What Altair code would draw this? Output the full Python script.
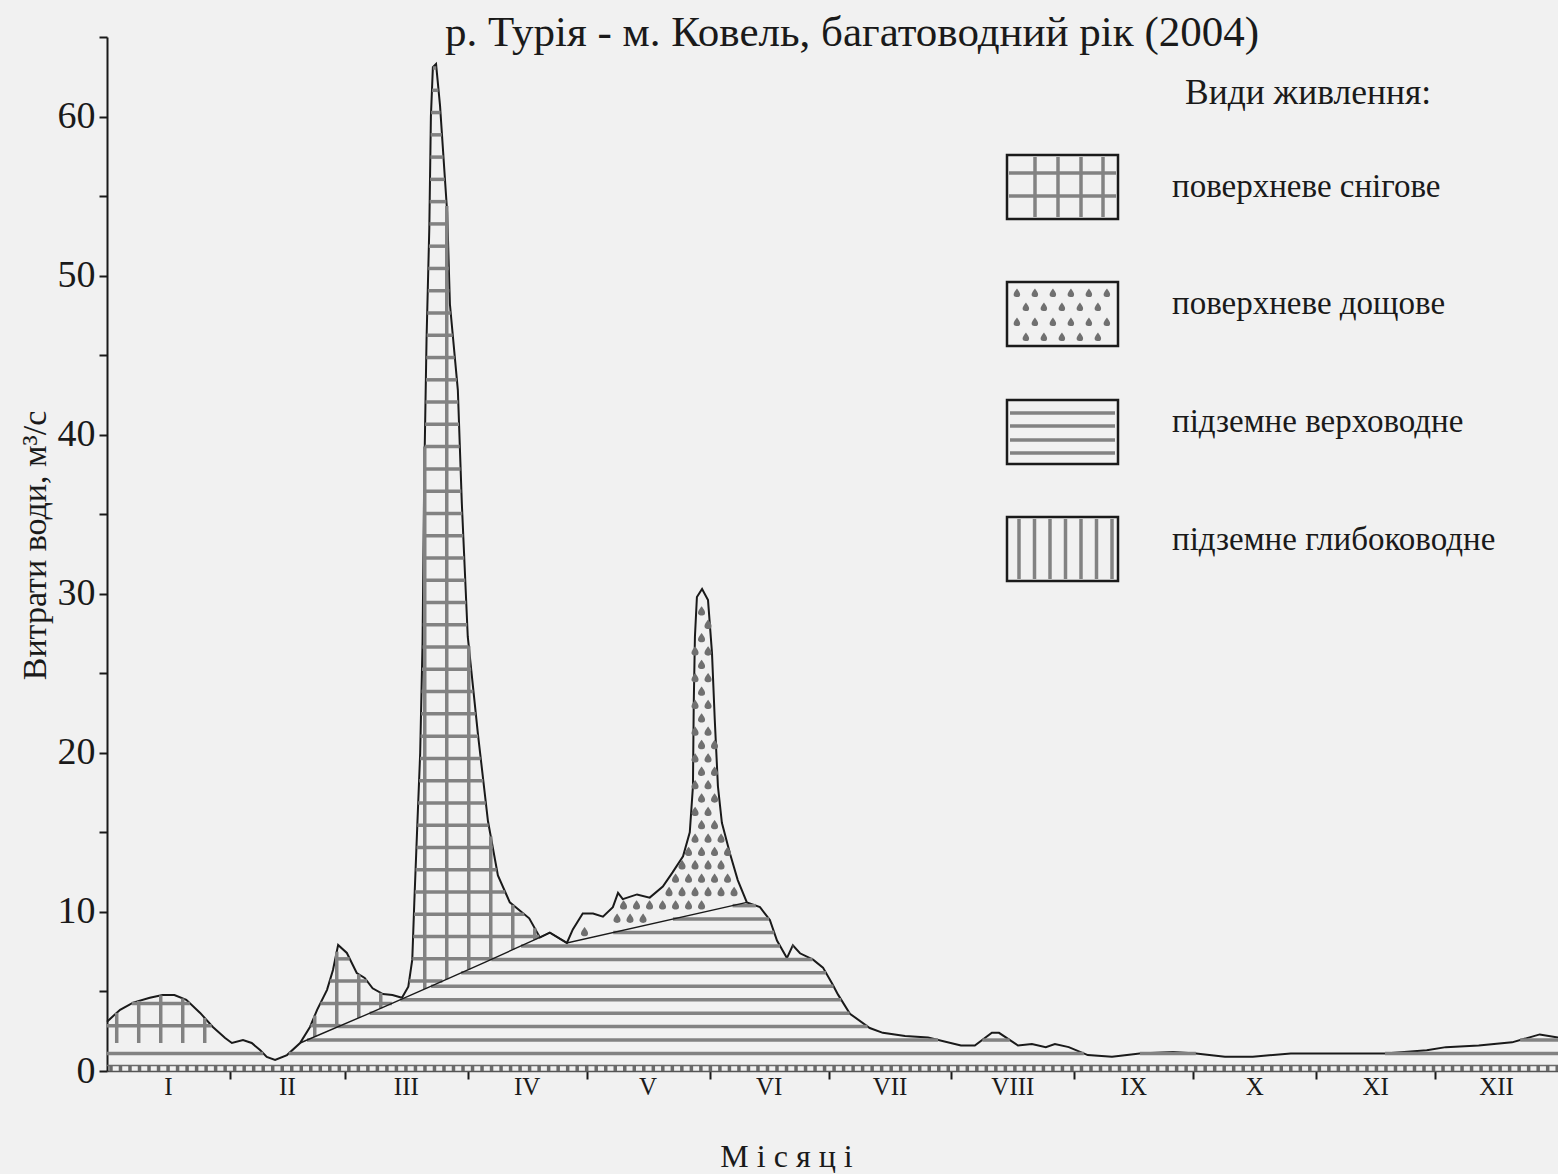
import numpy as np
import pandas as pd
import altair as alt

# ---------------------------------------------------------------- data
# Daily discharge hydrograph, day of year (2004) -> m3/s
DAYS = [0, 3.3, 6.6, 10.8, 14.0, 17.0, 20.0, 23.5, 26.7, 29.8, 31.5, 34.3, 36.5,
        38.6, 40.3, 42.4, 45.4, 48.7, 51.2, 53.0, 55.5, 57.0, 58.3, 60.5, 63.0,
        65.0, 67.0, 69.6, 72.0, 74.4, 76.0, 77.0, 77.5, 78.2, 79.0, 79.6, 80.0,
        80.6, 81.3, 81.7, 82.2, 83.0, 84.0, 85.8, 86.5, 88.5, 89.5, 91.0, 93.6,
        96.1, 98.6, 101.6, 106.5, 109.2, 111.7, 116.0, 117.5, 120.0, 122.6,
        125.1, 127.6, 128.9, 130.1, 133.7, 136.9, 140.2, 142.7, 145.3, 147.0,
        147.8, 148.0, 148.3, 148.8, 150.1, 151.6, 152.6, 153.3, 154.1, 155.1,
        157.1, 159.1, 161.4, 164.7, 167.2, 169.0, 171.5, 173.0, 174.8, 178.1,
        180.6, 182.9, 184.4, 187.4, 192.4, 195.7, 201.3, 207.1, 215.4, 218.9,
        223.2, 225.0, 229.8, 233.3, 236.8, 239.1, 242.6, 247.4, 253.5, 260.5,
        268.9, 274.7, 282.0, 289.0, 298.6, 310.5, 322.3, 332.9, 337.7, 346.0,
        354.4, 361.4, 366.0]
FLOW = [3.1, 3.85, 4.3, 4.6, 4.78, 4.78, 4.47, 3.65, 2.77, 2.07, 1.76, 1.95, 1.76,
        1.32, 0.88, 0.69, 1.0, 1.76, 2.77, 3.84, 5.1, 6.35, 7.92, 7.42, 6.16,
        5.85, 5.2, 4.84, 4.78, 4.6, 5.3, 7.0, 10.5, 15.0, 20.0, 27.0, 37.0,
        46.0, 53.0, 60.0, 63.1, 63.3, 60.7, 54.0, 48.2, 42.8, 35.7, 27.3, 21.1,
        15.7, 12.3, 10.6, 9.6, 8.4, 8.7, 8.05, 8.9, 9.9, 9.9,
        9.7, 10.3, 11.2, 10.8, 11.1, 10.9, 11.6, 12.5, 13.5, 15.0,
        17.9, 23.1, 27.3, 29.8, 30.3, 29.6, 26.3, 22.1, 17.9, 15.6,
        13.7, 12.0, 10.6, 10.3, 9.5, 8.2, 7.1, 7.9, 7.4, 7.0,
        6.5, 5.5, 4.8, 3.6, 2.7, 2.4, 2.2, 2.1, 1.6, 1.6,
        2.4, 2.4, 1.6, 1.7, 1.5, 1.7, 1.5, 1.0, 0.9, 1.1,
        1.2, 1.1, 0.9, 0.9, 1.1, 1.1, 1.1, 1.3, 1.5, 1.6,
        1.8, 2.3, 2.1]

# Upper boundary of the shallow groundwater component (after the last
# point it coincides with the hydrograph)
SEP_DAYS = [0, 31.5, 36.5, 38.6, 40.3, 42.4, 45.4, 48.7, 65.0, 81.5, 95.0,
            109.2, 111.7, 116.0, 161.4]
SEP_FLOW = [1.76, 1.76, 1.76, 1.32, 0.88, 0.69, 1.0, 1.76, 3.5, 5.3, 6.8,
            8.4, 8.7, 8.05, 10.6]

DEEP_FLOW = 0.35                 # deep groundwater, m3/s
SNOW_END = 110.0                 # end of snowmelt runoff, day
RAIN_START, RAIN_END = 116.0, 161.4

MONTHS = ["I", "II", "III", "IV", "V", "VI", "VII", "VIII", "IX", "X", "XI", "XII"]
MONTH_DAYS = [31, 29, 31, 30, 31, 30, 31, 31, 30, 31, 30, 31]

TITLE = "р. Турія - м. Ковель, багатоводний рік (2004)"
LEGEND_HEAD = "Види живлення:"
LEGEND_ITEMS = ["поверхневе снігове", "поверхневе дощове",
                "підземне верховодне", "підземне глибоководне"]

# ---------------------------------------------------------------- layout
W, H = 1451, 1034
X_MAX, Y_MAX = 366, 65
FONT = "Liberation Serif"
HATCH = "#828282"
DOT = "#707070"
INK = "#1a1a1a"
BG = "#f1f1f1"

xs = alt.Scale(domain=[0, X_MAX], nice=False, zero=False)
ys = alt.Scale(domain=[0, Y_MAX], nice=False, zero=True)


def px_x(p):
    """Plot-area pixel offset -> day units (for the legend and title)."""
    return p / W * X_MAX


def px_y(p):
    """Plot-area pixel offset from the top -> discharge units."""
    return Y_MAX * (1 - p / H)


def X(field="x"):
    return alt.X(f"{field}:Q", scale=xs)


def Y(field="y"):
    return alt.Y(f"{field}:Q", scale=ys)


# ---------------------------------------------------------------- hatching
fine = np.round(np.arange(0, 366.0001, 0.05), 3)
tot_f = np.interp(fine, DAYS, FLOW)
sep_days = SEP_DAYS + [d for d in DAYS if d > SEP_DAYS[-1]]
sep_flow = SEP_FLOW + [q for d, q in zip(DAYS, FLOW) if d > SEP_DAYS[-1]]
sep_f = np.minimum(np.interp(fine, sep_days, sep_flow), tot_f)


def runs(mask):
    m = np.diff(np.concatenate([[0], mask.astype(int), [0]]))
    return zip(np.where(m == 1)[0], np.where(m == -1)[0] - 1)


def horizontal(levels, lower, upper, region):
    rows = []
    for k in levels:
        for s, e in runs(region & (lower < k) & (upper > k)):
            if e > s:
                rows.append({"x": fine[s], "x2": fine[e], "y": k})
    return rows


snow_region = fine < SNOW_END
ground_h = horizontal(np.arange(1.1, 11.0, 0.845), np.full_like(fine, DEEP_FLOW),
                      sep_f, np.ones_like(fine, bool))
snow_h = horizontal(np.arange(2.85, 64.0, 1.4), sep_f, tot_f, snow_region)

snow_v = []
for d in np.arange(2.45, SNOW_END, 5.55):
    lo, hi = np.interp(d, sep_days, sep_flow), np.interp(d, DAYS, FLOW)
    if hi - lo > 0.3:
        snow_v.append({"x": d, "y": lo, "y2": hi})

rain_dots = []
for i, k in enumerate(np.arange(8.75, 30.0, 0.84)):
    for d in np.arange(RAIN_START + 1.2 + (i % 2) * 1.64, RAIN_END, 3.28):
        lo, hi = np.interp(d, sep_days, sep_flow), np.interp(d, DAYS, FLOW)
        if lo + 0.3 < k < hi - 0.35:
            rain_dots.append({"x": d, "y": k})

deep_v = [{"x": d, "y": 0.0, "y2": DEEP_FLOW} for d in np.arange(1.0, 366, 2.4)]

DROP = "M0,-1C0.5,-0.3,0.9,0.2,0.6,0.7C0.3,1,-0.4,1,-0.7,0.6C-0.9,0.2,-0.5,-0.4,0,-1Z"

# hydrograph, carrying both axes
bounds = [float(b) for b in np.cumsum(MONTH_DAYS)[:-1]]
starts = np.cumsum([0] + MONTH_DAYS)
mids = [float(starts[i] + MONTH_DAYS[i] / 2) for i in range(12)]

hydro = alt.Chart(pd.DataFrame({"x": DAYS, "y": FLOW})).mark_line(
    color=INK, strokeWidth=2).encode(
    x=alt.X("x:Q", scale=xs, axis=alt.Axis(
        values=bounds, labels=False, grid=False,
        tickSize=8, tickWidth=2, tickColor=INK, domainColor="#555",
        domainWidth=1.5, title="М і с я ц і", titleFont=FONT,
        titleFontSize=32, titleFontWeight="normal", titleColor=INK,
        titleX=679, titleY=85, titleBaseline="middle")),
    y=alt.Y("y:Q", scale=ys, axis=alt.Axis(
        values=list(range(0, 66, 5)),
        labelExpr="datum.value % 10 === 0 ? datum.label : ''",
        grid=False, tickSize=8, tickWidth=2, tickColor=INK,
        domainColor=INK, domainWidth=2, labelFont=FONT, labelFontSize=38,
        labelColor=INK, labelPadding=4, title="Витрати води, м³/с",
        titleFont=FONT, titleFontSize=34, titleFontWeight="normal",
        titleColor=INK, titleX=-72, titleY=508, titleAlign="center",
        titleBaseline="middle")))

hatch_h = alt.Chart(pd.DataFrame(ground_h + snow_h)).mark_rule(
    color=HATCH, strokeWidth=3.5).encode(x=X(), x2="x2:Q", y=Y())

hatch_v = alt.Chart(pd.DataFrame(snow_v)).mark_rule(
    color=HATCH, strokeWidth=3.5).encode(x=X(), y=Y(), y2="y2:Q")

dots = alt.Chart(pd.DataFrame(rain_dots)).mark_point(
    shape=DROP, filled=True, color=DOT, size=95, opacity=1).encode(x=X(), y=Y())

deep = alt.Chart(pd.DataFrame(deep_v)).mark_rule(
    color="#6a6a6a", strokeWidth=3.5).encode(x=X(), y=Y(), y2="y2:Q")

deep_top = alt.Chart(pd.DataFrame({"x": [0], "x2": [X_MAX], "y": [DEEP_FLOW]})).mark_rule(
    color="#6a6a6a", strokeWidth=1.5).encode(x=X(), x2="x2:Q", y=Y())

# separation line between surface and groundwater runoff
sep_line = alt.Chart(pd.DataFrame({"x": SEP_DAYS[7:], "y": SEP_FLOW[7:]})).mark_line(
    color=INK, strokeWidth=1.4).encode(x=X(), y=Y())

month_text = alt.Chart(pd.DataFrame({"x": mids, "m": MONTHS})).mark_text(
    font=FONT, fontSize=25, color=INK, baseline="middle").encode(
    x=X(), y=alt.value(H + 16), text="m:N")

# ---------------------------------------------------------------- legend
BX0, BX1 = 900, 1011
box_tops = [118, 245, 363, 480]
BOX_H = 64
rects = pd.DataFrame({"x": [px_x(BX0)] * 4, "x2": [px_x(BX1)] * 4,
                      "y": [px_y(t) for t in box_tops],
                      "y2": [px_y(t + BOX_H) for t in box_tops]})

lg_rules = []
for xv in [928, 951, 974, 996]:                       # snow: grid
    lg_rules.append((xv, xv, box_tops[0] + 2, box_tops[0] + BOX_H - 2))
for yv in [136, 159]:
    lg_rules.append((BX0 + 2, BX1 - 2, yv, yv))
for yv in [376, 389, 403, 416]:                       # shallow groundwater
    lg_rules.append((BX0 + 3, BX1 - 3, yv, yv))
for xv in np.arange(912, BX1 - 4, 15.5):              # deep groundwater
    lg_rules.append((xv, xv, box_tops[3] + 2, box_tops[3] + BOX_H - 2))
lg_rules = pd.DataFrame([{"x": px_x(a), "x2": px_x(b), "y": px_y(c), "y2": px_y(d)}
                         for a, b, c, d in lg_rules])

lg_dots = []
for r, yv in enumerate([256, 270, 285, 300]):
    for xv in np.arange(910 + (r % 2) * 9, BX1 - 5, 18):
        lg_dots.append({"x": px_x(xv), "y": px_y(yv)})
lg_dots = pd.DataFrame(lg_dots)

lg_head = pd.DataFrame({"x": [px_x(1078)], "y": [px_y(56)], "t": [LEGEND_HEAD]})
lg_text = pd.DataFrame({"x": [px_x(1065)] * 4,
                        "y": [px_y(v) for v in [150, 267, 385, 503]],
                        "t": LEGEND_ITEMS})

legend_rects = alt.Chart(rects).mark_rect(
    fillOpacity=0, stroke=INK, strokeWidth=2.5).encode(
    x=X(), x2="x2:Q", y=Y(), y2="y2:Q")
legend_rules = alt.Chart(lg_rules).mark_rule(color=HATCH, strokeWidth=3.5).encode(
    x=X(), x2="x2:Q", y=Y(), y2="y2:Q")
legend_dots = alt.Chart(lg_dots).mark_point(
    shape=DROP, filled=True, color=DOT, size=80, opacity=1).encode(x=X(), y=Y())
legend_head = alt.Chart(lg_head).mark_text(
    font=FONT, fontSize=35.5, color=INK, align="left", baseline="middle").encode(
    x=X(), y=Y(), text="t:N")
legend_text = alt.Chart(lg_text).mark_text(
    font=FONT, fontSize=33, color=INK, align="left", baseline="middle").encode(
    x=X(), y=Y(), text="t:N")

title_text = alt.Chart(pd.DataFrame({"x": [px_x(745)], "y": [px_y(-4)], "t": [TITLE]})).mark_text(
    font=FONT, fontSize=43, color=INK, align="center", baseline="middle").encode(
    x=X(), y=Y(), text="t:N")

chart = alt.layer(
    hydro, hatch_h, hatch_v, dots, deep, deep_top, sep_line, month_text,
    legend_rects, legend_rules, legend_dots, legend_head, legend_text, title_text,
).properties(
    width=W, height=H,
    autosize=alt.AutoSizeParams(type="none"),
    padding={"left": 107, "top": 37, "right": 0, "bottom": 103},
    background=BG,
).configure_view(stroke=None)

chart.save("out.html", embed_options={"renderer": "svg", "actions": False})
